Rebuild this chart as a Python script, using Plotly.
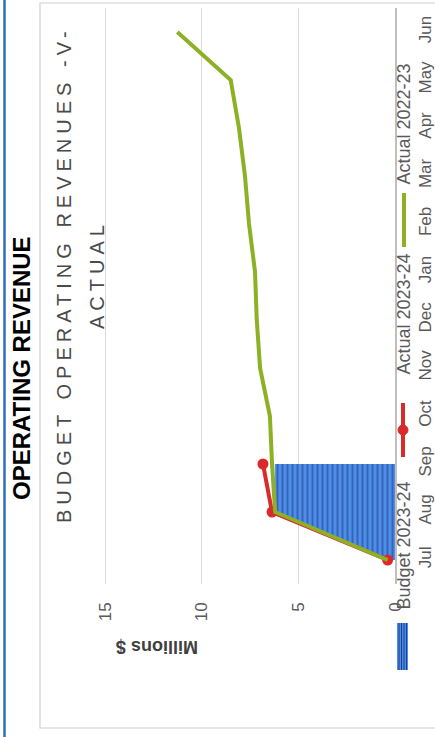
import plotly.graph_objects as go

# ---------------- data ----------------
months = ["Jul", "Aug", "Sep", "Oct", "Nov", "Dec", "Jan", "Feb", "Mar", "Apr", "May", "Jun"]
budget_2324 = [0.38, 6.2, 6.2]                       # Jul-Sep, $ millions (cumulative)
actual_2324 = [0.38, 6.36, 6.83]                     # Jul-Sep
actual_2223 = [0.38, 6.2, 6.36, 6.47, 6.98, 7.15, 7.24, 7.55, 7.76, 8.07, 8.5, 11.26]
value_ticks = [0, 5, 10, 15]

series_names = ["Budget 2023-24", "Actual 2023-24", "Actual 2022-23"]

# ---------------- layout helpers ----------------
W, H = 435, 737
def px(x):
    return x / W
def py(y):
    return 1 - y / H

FONT = "Liberation Sans, Arial, sans-serif"
GREY = "#595959"
BLUE = "#4A88E2"
RED = "#D92B2B"
GREEN = "#8DB024"

fig = go.Figure()

fig.add_trace(go.Scatter(
    x=budget_2324, y=months[:len(budget_2324)], name=series_names[0],
    mode="lines", fill="tozerox",
    line=dict(color=BLUE, width=0.5),
    fillpattern=dict(shape="|", bgcolor="#4F8EE8", fgcolor="#1C3C8C", size=5, solidity=0.4),
))
fig.add_trace(go.Scatter(
    x=actual_2324, y=months[:len(actual_2324)], name=series_names[1],
    mode="lines+markers",
    line=dict(color=RED, width=4),
    marker=dict(color=RED, size=11, symbol="circle"),
))
fig.add_trace(go.Scatter(
    x=actual_2223, y=months, name=series_names[2],
    mode="lines",
    line=dict(color=GREEN, width=4),
))

# plot area: value 0 at x=395, 15 at x=105 ; categories from y=8 (top) to 584 (bottom)
x_left, x_right = 50, 395
unit = (395 - 105) / 15.0
xmax = (x_right - x_left) / unit

fig.update_layout(
    width=W, height=H, autosize=False,
    margin=dict(l=0, r=0, t=0, b=0, pad=0),
    paper_bgcolor="white", plot_bgcolor="rgba(0,0,0,0)",
    showlegend=False,
    font=dict(family=FONT, color=GREY),
    xaxis=dict(
        domain=[px(x_left), px(x_right)],
        range=[xmax, 0],
        tickvals=value_ticks,
        ticktext=[str(v) for v in value_ticks],
        tickangle=-90,
        tickfont=dict(size=17, color=GREY, family=FONT),
        ticklabelstandoff=14,
        showgrid=True, gridcolor="#D9D9D9", gridwidth=1,
        zeroline=False, showline=False, ticks="",
        automargin=False,
        fixedrange=True,
    ),
    yaxis=dict(
        domain=[py(584), py(8)],
        type="category",
        categoryorder="array", categoryarray=months,
        range=[-0.5, len(months) - 0.5],
        side="right",
        tickangle=-90,
        tickfont=dict(size=17, color=GREY, family=FONT),
        ticklabelstandoff=14,
        showgrid=False, zeroline=False,
        showline=True, linecolor="#BFBFBF", linewidth=1.5,
        ticks="",
        automargin=False,
        fixedrange=True,
    ),
)

shapes = []
# chart-area border
shapes.append(dict(type="rect", xref="paper", yref="paper",
                   x0=px(40), x1=px(440), y0=py(728), y1=py(3),
                   line=dict(color="#D0D0D0", width=1.2), fillcolor="rgba(0,0,0,0)", layer="below"))
# blue page frame line at left
shapes.append(dict(type="line", xref="paper", yref="paper",
                   x0=px(4.5), x1=px(4.5), y0=0, y1=1,
                   line=dict(color="#2F6DC0", width=2.5)))
# legend key: budget patch
shapes.append(dict(type="rect", xref="paper", yref="paper",
                   x0=px(397), x1=px(408), y0=py(670), y1=py(623),
                   fillcolor="#4F8EE8", line=dict(width=0)))
for sx in [399, 401.5, 404, 406.5]:
    shapes.append(dict(type="line", xref="paper", yref="paper",
                       x0=px(sx), x1=px(sx), y0=py(670), y1=py(623),
                       line=dict(color="#1C3C8C", width=1)))
# legend key: red line + marker
shapes.append(dict(type="line", xref="paper", yref="paper",
                   x0=px(403), x1=px(403), y0=py(457), y1=py(403),
                   line=dict(color=RED, width=4)))
shapes.append(dict(type="circle", xref="paper", yref="paper",
                   x0=px(398), x1=px(408), y0=py(435), y1=py(425),
                   fillcolor=RED, line=dict(color=RED, width=1)))
# legend key: green line
shapes.append(dict(type="line", xref="paper", yref="paper",
                   x0=px(404), x1=px(404), y0=py(247), y1=py(193),
                   line=dict(color=GREEN, width=4)))
fig.update_layout(shapes=shapes)

def ann(text, x, y, size, color=GREY, angle=-90, bold=False):
    t = f"<b>{text}</b>" if bold else text
    fig.add_annotation(text=t, xref="paper", yref="paper", x=px(x), y=py(y),
                       xanchor="center", yanchor="middle", showarrow=False,
                       textangle=angle, font=dict(size=size, color=color, family=FONT))

ann("OPERATING REVENUE", 22, 368, 24, color="#000000", bold=True)
ann('<span style="letter-spacing:5px">BUDGET OPERATING REVENUES -V-</span>', 64, 275, 20, color="#4A4A4A")
ann('<span style="letter-spacing:5px">ACTUAL</span>', 97, 275, 20, color="#4A4A4A")
ann("Millions $", 157, 647, 18, color="#404040", angle=180, bold=True)

# legend texts
ann(series_names[0], 403.5, 546, 18)
ann(series_names[1], 403.5, 314, 18)
ann(series_names[2], 403.5, 124, 18)

fig.write_html("out.html")
